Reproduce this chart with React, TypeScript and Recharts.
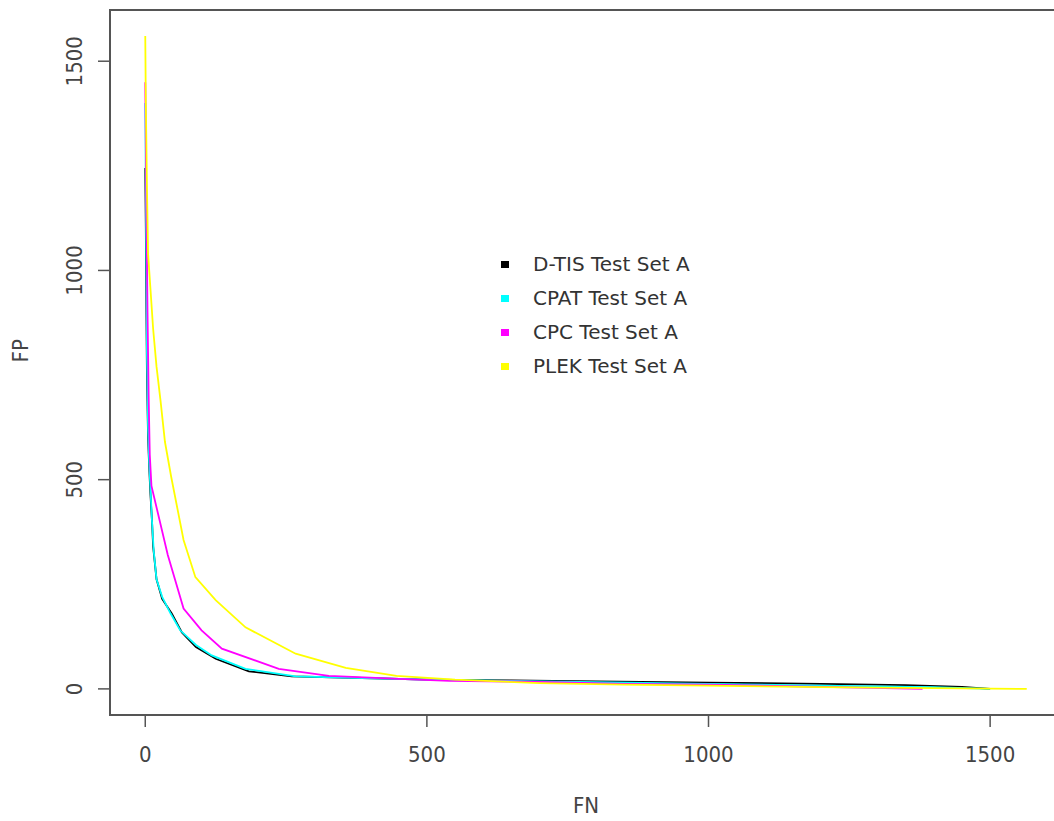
import React from 'react';
import { LineChart, Line, XAxis, YAxis, ReferenceArea, Label } from 'recharts';

// FN / FP pairs, one pair of arrays per method
const dtisFN = [0, 1, 2, 3, 5, 7, 9, 12, 14, 20, 30, 47, 65, 90, 125, 184, 260, 385, 500, 650, 800, 1000, 1200, 1350, 1450, 1500];
const dtisFP = [1245, 1100, 900, 750, 600, 530, 470, 400, 340, 262, 215, 180, 135, 100, 72, 42, 30, 26, 22, 20, 18, 15, 12, 9, 5, 0];

const cpatFN = [0, 1, 2, 3, 5, 7, 9, 12, 15, 20, 30, 45, 62, 90, 118, 178, 267, 385, 500, 650, 800, 1000, 1200, 1400, 1500];
const cpatFP = [1400, 1200, 1000, 800, 620, 540, 483, 400, 330, 262, 220, 180, 140, 105, 80, 48, 30, 26, 22, 19, 16, 12, 8, 4, 0];

const cpcFN = [0, 1, 2, 4, 6, 8, 11, 40, 68, 100, 136, 237, 326, 450, 540, 700, 850, 1000, 1200, 1380];
const cpcFP = [1450, 1300, 1150, 900, 700, 560, 485, 320, 192, 140, 96, 48, 31, 24, 19, 17, 12, 10, 5, 0];

const plekFN = [0, 1, 3, 5, 9, 14, 20, 27, 35, 46, 68, 89, 125, 178, 267, 356, 446, 550, 700, 850, 1000, 1200, 1400, 1565];
const plekFP = [1560, 1400, 1200, 1040, 960, 860, 770, 690, 590, 507, 356, 267, 212, 147, 84, 50, 31, 22, 14, 10, 8, 4, 2, 0];

const seriesNames = ['D-TIS Test Set A', 'CPAT Test Set A', 'CPC Test Set A', 'PLEK Test Set A'];
const seriesColors = ['#000000', '#00ffff', '#ff00ff', '#ffff00'];
const ticks = [0, 500, 1000, 1500];

const toPoints = (fn: number[], fp: number[]) => fn.map((x, i) => ({ x, y: fp[i] }));
const series = [
  toPoints(dtisFN, dtisFP),
  toPoints(cpatFN, cpatFP),
  toPoints(cpcFN, cpcFP),
  toPoints(plekFN, plekFP),
];

const xDomain: [number, number] = [-62.6, 1627.6];
const yDomain: [number, number] = [-62.4, 1622.4];
const axisFont = "'Liberation Sans Narrow', 'DejaVu Sans Condensed', 'Liberation Sans', sans-serif";

const XTick = ({ x, y, payload }: any) => (
  <text x={x} y={y + 33} textAnchor="middle" fontFamily={axisFont} fontSize={22} fill="#444">
    {payload.value}
  </text>
);

const YTick = ({ x, y, payload }: any) => (
  <text x={x - 14} y={y} transform={`rotate(-90 ${x - 14} ${y})`} textAnchor="middle"
    fontFamily={axisFont} fontSize={22} fill="#444">
    {payload.value}
  </text>
);

// legend drawn as plain html on top of the plot, so it does not eat chart space
const LegendBox = () => (
  <div style={{ position: 'absolute', left: 501, top: 247, fontFamily: "'DejaVu Sans', sans-serif", fontSize: 20, color: '#333' }}>
    {seriesNames.map((name, i) => (
      <div key={name} style={{ display: 'flex', alignItems: 'center', height: 34 }}>
        <span style={{ width: 8, height: 7, background: seriesColors[i], marginRight: 24 }} />
        <span>{name}</span>
      </div>
    ))}
  </div>
);

export default function App() {
  return (
    <div style={{ position: 'absolute', left: 0, top: 0, width: 1054, height: 821, overflow: 'hidden', background: '#fff' }}>
      <LineChart width={1062} height={821} margin={{ top: 10, right: 0, left: 0, bottom: 0 }}>
        <XAxis type="number" dataKey="x" domain={xDomain} ticks={ticks} allowDataOverflow
          axisLine={false} tickSize={12} tickLine={{ stroke: '#555', strokeWidth: 1.5 }}
          tick={<XTick />} height={106}>
          <Label value="FN" position="insideBottom" offset={8} fontFamily={axisFont} fontSize={22} fill="#444" />
        </XAxis>
        <YAxis type="number" dataKey="y" domain={yDomain} ticks={ticks} allowDataOverflow
          axisLine={false} tickSize={12} tickLine={{ stroke: '#555', strokeWidth: 1.5 }}
          tick={<YTick />} width={110}>
          <Label value="FP" angle={-90} position="insideLeft" offset={20} fontFamily={axisFont} fontSize={22} fill="#444" />
        </YAxis>
        <ReferenceArea x1={xDomain[0]} x2={xDomain[1]} y1={yDomain[0]} y2={yDomain[1]}
          fill="none" stroke="#555" strokeWidth={2} ifOverflow="visible" />
        {series.map((pts, i) => (
          <Line key={seriesNames[i]} data={pts} dataKey="y" name={seriesNames[i]} type="linear"
            stroke={seriesColors[i]} strokeWidth={1.8} dot={false} isAnimationActive={false} />
        ))}
      </LineChart>
      <LegendBox />
    </div>
  );
}
